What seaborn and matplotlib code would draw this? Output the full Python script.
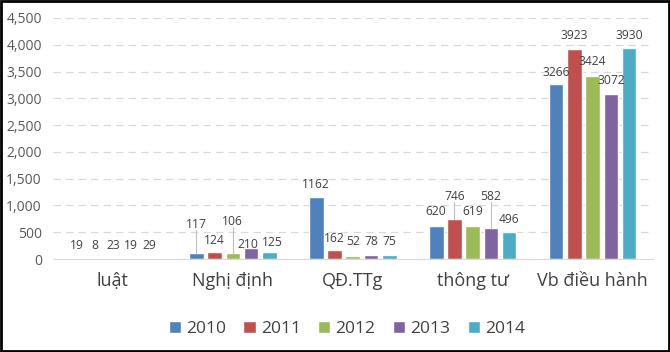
import pandas as pd
import seaborn as sns
import matplotlib.pyplot as plt
from matplotlib.ticker import FuncFormatter

# Data
categories = ["luật", "Nghị định", "QĐ.TTg", "thông tư", "Vb điều hành"]
years = ["2010", "2011", "2012", "2013", "2014"]
v2010 = [19, 117, 1162, 620, 3266]
v2011 = [8, 124, 162, 746, 3923]
v2012 = [23, 106, 52, 619, 3424]
v2013 = [19, 210, 78, 582, 3072]
v2014 = [29, 125, 75, 496, 3930]

colors = ["#4F81BD", "#C0504D", "#9BBB59", "#8064A2", "#4BACC6"]

# where the data labels sit (layout only, as in the source chart)
label_y = {
    "2010": [260, 650, 1400, 880, 3490],
    "2011": [260, 350, 390, 1175, 4180],
    "2012": [260, 710, 320, 880, 3680],
    "2013": [260, 280, 320, 1175, 3340],
    "2014": [260, 310, 320, 745, 4180],
}
label_dx = {"2013": [0, -0.03, 0, 0, 0], "2014": [0, 0.03, 0, 0, 0]}

series = [v2010, v2011, v2012, v2013, v2014]
rows = []
for y, vals in zip(years, series):
    for c, v in zip(categories, vals):
        rows.append({"cat": c, "year": y, "value": v})
df = pd.DataFrame(rows)

sns.set_style("white")
plt.rcParams["font.family"] = ["Open Sans", "DejaVu Sans"]

fig = plt.figure(figsize=(6.7, 3.52), dpi=100)
ax = fig.add_axes([0.079, 0.264, 0.895, 0.685])

sns.barplot(data=df, x="cat", y="value", hue="year", order=categories,
            hue_order=years, palette=colors, width=0.76, gap=0.2,
            saturation=1, ax=ax, legend=True)

ax.set_ylim(0, 4500)
ax.set_xlim(-0.5, 4.5)
ax.set_yticks(range(0, 4501, 500))
ax.yaxis.set_major_formatter(FuncFormatter(lambda v, p: f"{int(v):,}"))
ax.yaxis.grid(True, linestyle=(0, (6, 4)), color="#D9D9D9", linewidth=0.9)
ax.set_axisbelow(True)
for s in ["top", "right", "left"]:
    ax.spines[s].set_visible(False)
ax.spines["bottom"].set_color("#D9D9D9")
ax.tick_params(axis="y", length=0, labelsize=10, labelcolor="#595959", pad=8)
ax.tick_params(axis="x", length=0, labelsize=13, labelcolor="#404040", pad=9)
ax.set_xlabel("")
ax.set_ylabel("")

# data labels with leader lines when far from the bar
for cont, y in zip(ax.containers, years):
    dxs = label_dx.get(y, [0] * len(categories))
    for bar, val, ly, dx in zip(cont, df[df.year == y]["value"], label_y[y], dxs):
        cx = bar.get_x() + bar.get_width() / 2
        ax.text(cx + dx, ly, str(val), ha="center", va="center", fontsize=8.7,
                color="#404040")
        if ly - val > 300 and val < 3000:
            ax.plot([cx, cx], [val, ly - 110], color="#BFBFBF", lw=0.8)

ax.legend(loc="upper center", bbox_to_anchor=(0.49, -0.19), ncol=5,
          frameon=False, fontsize=12.5, handlelength=0.7, handleheight=0.7,
          handletextpad=0.3, columnspacing=1.0, labelcolor="#404040")

# outer frame
fig.patches.append(plt.Rectangle((0.002, 0.003), 0.996, 0.994,
                                 transform=fig.transFigure, fill=False,
                                 edgecolor="black", linewidth=2))

fig.savefig("out.png", dpi=100)
